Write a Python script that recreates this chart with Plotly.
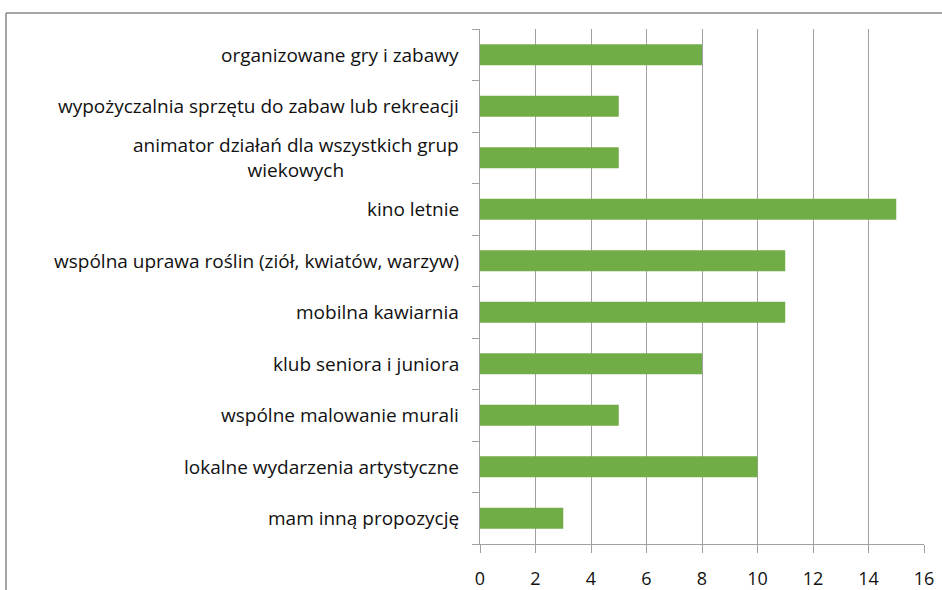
import plotly.graph_objects as go

categories = [
    "organizowane gry i zabawy",
    "wypożyczalnia sprzętu do zabaw lub rekreacji",
    "animator działań dla wszystkich grup<br>wiekowych",
    "kino letnie",
    "wspólna uprawa roślin (ziół, kwiatów, warzyw)",
    "mobilna kawiarnia",
    "klub seniora i juniora",
    "wspólne malowanie murali",
    "lokalne wydarzenia artystyczne",
    "mam inną propozycję",
]
values = [8, 5, 5, 15, 11, 11, 8, 5, 10, 3]
x_ticks = [0, 2, 4, 6, 8, 10, 12, 14, 16]

W, H = 942, 590
ML, MR, MT, MB = 480, 18, 29, 46
pw, ph = W - ML - MR, H - MT - MB

FONT = "Open Sans"
GRAY = "#A0A0A0"
TXT = "#111111"

fig = go.Figure(go.Bar(
    x=values, y=list(range(len(categories))), orientation="h",
    marker=dict(color="#70AD47", line=dict(width=0)),
    width=0.41, hoverinfo="skip",
))

annotations = []
for i, c in enumerate(categories):
    annotations.append(dict(
        x=0, xref="paper", y=i, yref="y", text=c, showarrow=False,
        xanchor="right", yanchor="middle", align="center", xshift=-19,
        font=dict(family=FONT, size=19, color=TXT),
    ))

bx = (6 - ML) / pw
by = 1 + (MT - 13) / ph
shapes = [
    dict(type="line", xref="paper", yref="paper", x0=bx, x1=1.2, y0=by, y1=by,
         line=dict(color="#878787", width=1.5)),
    dict(type="line", xref="paper", yref="paper", x0=bx, x1=bx, y0=by, y1=-0.2,
         line=dict(color="#878787", width=1.5)),
]

fig.update_layout(
    width=W, height=H, autosize=False,
    margin=dict(l=ML, r=MR, t=MT, b=MB, pad=0, autoexpand=False),
    paper_bgcolor="white", plot_bgcolor="white",
    showlegend=False,
    annotations=annotations, shapes=shapes,
    font=dict(family=FONT, size=19, color=TXT),
    xaxis=dict(
        range=[0, 16], tickvals=x_ticks, ticktext=[str(t) for t in x_ticks],
        showgrid=True, gridcolor=GRAY, gridwidth=1,
        showline=True, linecolor=GRAY, linewidth=1,
        ticks="outside", ticklen=8, tickcolor=GRAY, tickwidth=1,
        tickfont=dict(family=FONT, size=18, color=TXT),
        ticklabelstandoff=10, zeroline=False, fixedrange=True,
        automargin=False,
    ),
    yaxis=dict(
        range=[len(categories) - 0.5, -0.5],
        tickvals=[i - 0.5 for i in range(len(categories) + 1)],
        showticklabels=False, showgrid=False,
        showline=True, linecolor=GRAY, linewidth=1,
        ticks="outside", ticklen=7, tickcolor=GRAY, tickwidth=1,
        zeroline=False, fixedrange=True, automargin=False,
    ),
)

fig.write_html(
    "out.html",
    config={"displayModeBar": False},
    post_script="document.body.style.margin='0';document.body.style.overflow='hidden';",
)
